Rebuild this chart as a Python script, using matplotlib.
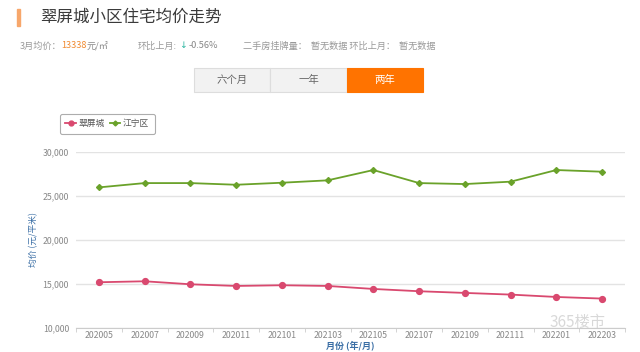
import matplotlib
matplotlib.use("Agg")
import matplotlib.pyplot as plt
from matplotlib.patches import Rectangle
from matplotlib.lines import Line2D

plt.rcParams['font.family'] = ['Noto Sans CJK SC', 'DejaVu Sans']

months = ['202005', '202007', '202009', '202011', '202101', '202103',
          '202105', '202107', '202109', '202111', '202201', '202203']
cuiping = [15190, 15300, 14960, 14770, 14850, 14770, 14430, 14170, 13980, 13790, 13520, 13338]
jiangning = [25950, 26440, 26440, 26250, 26480, 26750, 27920, 26440, 26330, 26600, 27920, 27730]
yticks = [10000, 15000, 20000, 25000, 30000]
series_names = ['翠屏城', '江宁区']
periods = ['六个月', '一年', '两年']

W, H = 640, 352
fig = plt.figure(figsize=(W / 100, H / 100), dpi=100)
fig.patch.set_facecolor('white')

def fx(px):
    return px / W

def fy(py):
    return 1 - py / H

RED = '#d9496f'
GREEN = '#6aa22a'
BLUE = '#3a6ea5'
GREY = '#999999'

# header
fig.patches.append(Rectangle((fx(17), fy(26)), 3 / W, 17 / H, transform=fig.transFigure,
                             color='#f7a76b', zorder=2))
fig.text(fx(40), fy(17), '翠屏城小区住宅均价走势', fontsize=11.9, color='#3a3a3a', va='center')

y2 = fy(46)
fs = 6.6

t1 = fig.text(fx(20), y2, '3月均价：', fontsize=fs, color=GREY, va='center')
fig.canvas.draw()
r = fig.canvas.get_renderer()

def after(prev, s, color, gap=0.0, family=None):
    bb = prev.get_window_extent(renderer=r)
    kw = {}
    if family:
        kw['family'] = family
    return fig.text(bb.x1 / W + gap / W, y2, s, fontsize=fs, color=color, va='center', **kw)

t2 = after(t1, '13338', '#f08a30')
t3 = after(t2, '元/㎡', '#888888')
t4 = fig.text(fx(138), y2, '环比上月:', fontsize=fs, color=GREY, va='center')
t5 = after(t4, '↓', '#2bb5a0', gap=2, family='DejaVu Sans')
t6 = after(t5, '-0.56%', '#888888', gap=2)
fig.text(fx(243), y2, '二手房挂牌量：  暂无数据 环比上月：  暂无数据', fontsize=fs, color=GREY, va='center')

# buttons
bx0, bw, by0, bh = 194, 76.3, 68, 24
for i, p in enumerate(periods):
    x = bx0 + i * bw
    active = i == 2
    fig.patches.append(Rectangle((fx(x), fy(by0 + bh)), bw / W, bh / H, transform=fig.transFigure,
                                 facecolor='#ff7300' if active else '#f2f2f2',
                                 edgecolor='#ff7300' if active else '#dddddd', lw=0.8, zorder=2))
    fig.text(fx(x + bw / 2), fy(by0 + bh / 2), p, fontsize=7.5, ha='center', va='center',
             color='white' if active else '#666666', zorder=3)

# axes
ax = fig.add_axes([fx(76), fy(328), fx(625) - fx(76), fy(151.7) - fy(328)])
xs = list(range(len(months)))
ax.plot(xs, jiangning, color=GREEN, lw=1.3, marker='D', ms=3, mfc=GREEN, mec=GREEN, zorder=3)
ax.plot(xs, cuiping, color=RED, lw=1.3, marker='o', ms=4.2, mfc=RED, mec=RED, zorder=3)
ax.set_xlim(-0.5, len(months) - 0.5)
ax.set_ylim(10000, 30000)
ax.set_yticks(yticks)
ax.set_yticklabels([f'{v:,}' for v in yticks], fontsize=6.3, color='#888888')
ax.set_xticks(xs)
ax.set_xticklabels(months, fontsize=6.3, color='#888888')
ax.set_xticks([i - 0.5 for i in range(len(months) + 1)], minor=True)
ax.tick_params(axis='x', which='major', length=0, pad=2)
ax.tick_params(axis='x', which='minor', length=3, color='#cccccc')
ax.tick_params(axis='y', length=0, pad=5)
ax.grid(axis='y', color='#e3e3e3', lw=1)
ax.set_axisbelow(True)
for s in ['top', 'right', 'left']:
    ax.spines[s].set_visible(False)
ax.spines['bottom'].set_color('#cccccc')
ax.set_ylabel('均价 (元/平米)', fontsize=6.3, color=BLUE, labelpad=3)
ax.set_xlabel('月份 (年/月)', fontsize=6.5, color=BLUE, labelpad=0.5, fontweight='bold')

# legend
handles = [Line2D([0], [0], color=RED, marker='o', ms=3.5, lw=1.3),
           Line2D([0], [0], color=GREEN, marker='D', ms=2.5, lw=1.3)]
leg = fig.legend(handles, series_names, loc='upper left', bbox_to_anchor=(fx(60), fy(114)),
                 fontsize=6.3, ncol=2, frameon=True, handlelength=1.2, columnspacing=0.6,
                 handletextpad=0.3, borderpad=0.6, borderaxespad=0, fancybox=True)
leg.get_frame().set_edgecolor('#999999')
leg.get_frame().set_linewidth(0.8)
for txt in leg.get_texts():
    txt.set_color('#555555')

# watermark
fig.text(fx(578), fy(323), '365楼市', fontsize=11, color='#cfcfcf', ha='center', va='center',
         style='italic', alpha=0.8)

fig.savefig('out.png', dpi=100)
